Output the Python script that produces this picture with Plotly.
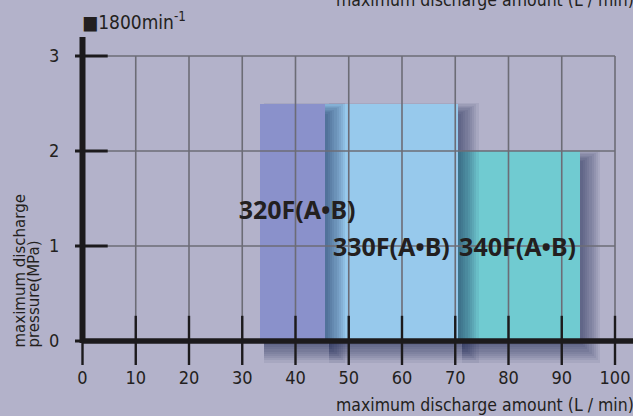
import plotly.graph_objects as go

# ---------------- data ----------------
models = ["320F(A•B)", "330F(A•B)", "340F(A•B)"]
flow_min = [33.3, 45.5, 70.5]        # L/min
flow_max = [45.5, 70.5, 93.4]        # L/min
pressure_max = [2.5, 2.5, 2.0]       # MPa
bar_colors = ["#8a91cb", "#97c9ec", "#70cbd1"]

x_ticks = [0, 10, 20, 30, 40, 50, 60, 70, 80, 90, 100]
x_ticklabels = [str(v) for v in x_ticks]
y_ticks = [0, 1, 2, 3]
y_ticklabels = [str(v) for v in y_ticks]

label_x = [40.3, 58.0, 81.7]
label_y = [1.35, 0.965, 0.965]

# ---------------- geometry helpers ----------------
W, H = 633, 416
ML, MR, MT, MB = 75, 0, 30, 51
PX_X = 5.325   # pixels per L/min
PX_Y = 95.0    # pixels per MPa
x_range = [-(82.5 - ML) / PX_X, (W - 82.5) / PX_X]
y_range = [-((H - MB) - 341) / PX_Y, (341 - MT) / PX_Y]

NARROW = "DejaVu Sans Condensed, sans-serif"
TXT = "#231f20"

fig = go.Figure()

# bars drawn back-to-front so each shadow falls on the next bar
NL = 9
for i in [2, 1, 0]:
    x0, x1, h = flow_min[i], flow_max[i], pressure_max[i]
    # soft drop shadow (layers)
    for k in range(NL):
        e = 2.2 * k
        sx0 = x0 + 4 / PX_X
        sx1 = x1 + (3 + e) / PX_X
        sb = -(4 + e) / PX_Y
        st = h - (10 - e * 0.6) / PX_Y
        fig.add_trace(go.Bar(
            x=[(sx0 + sx1) / 2], width=[sx1 - sx0], base=[sb], y=[st - sb],
            marker=dict(color="rgba(20,35,70,0.07)", line=dict(width=0)),
            hoverinfo="skip", showlegend=False))
    fig.add_trace(go.Bar(
        x=[(x0 + x1) / 2], width=[x1 - x0], base=[0], y=[h],
        marker=dict(color=bar_colors[i], line=dict(width=0)),
        name=models[i], hoverinfo="skip", showlegend=False))

# grid lines (over the bars)
gx, gy = [], []
for v in x_ticks:
    gx += [v, v, None]
    gy += [0, y_ticks[-1], None]
for v in y_ticks[1:]:
    gx += [x_ticks[0], x_ticks[-1], None]
    gy += [v, v, None]
fig.add_trace(go.Scatter(x=gx, y=gy, mode="lines",
                         line=dict(color="#6c6c76", width=1.6),
                         hoverinfo="skip", showlegend=False))

# tick marks crossing the axes
fig.add_trace(go.Scatter(x=x_ticks, y=[0] * len(x_ticks), mode="markers",
                         marker=dict(symbol="line-ns", size=36,
                                     line=dict(color="#1c1a1c", width=2.4)),
                         hoverinfo="skip", showlegend=False))
fig.add_trace(go.Scatter(x=[0] * len(y_ticks), y=y_ticks, mode="markers",
                         marker=dict(symbol="line-ew", size=36,
                                     line=dict(color="#1c1a1c", width=3)),
                         hoverinfo="skip", showlegend=False))

# model labels
fig.add_trace(go.Scatter(x=label_x, y=label_y, mode="text", text=models,
                         textfont=dict(family="Noto Sans", size=25, color=TXT,
                                       weight="bold"),
                         textposition="middle center",
                         hoverinfo="skip", showlegend=False))

# thick axis lines
fig.add_shape(type="line", xref="x", yref="y", x0=0, x1=x_range[1], y0=0, y1=0,
              line=dict(color="#1c1a1c", width=5.5), layer="above")
fig.add_shape(type="line", xref="x", yref="y", x0=0, x1=0, y0=-0.02, y1=3.2,
              line=dict(color="#1c1a1c", width=6), layer="above")

PW, PH = W - ML - MR, H - MT - MB
ann = []
ann.append(dict(text="■1800min<sup>-1</sup>", xref="paper", yref="paper",
                x=(80 - ML) / PW, y=1 + (MT - 21) / PH,
                xanchor="left", yanchor="middle", showarrow=False,
                font=dict(family=NARROW, size=19, color=TXT)))
for ypx in (405, 0):
    ann.append(dict(text="maximum discharge amount (L / min)", xref="paper", yref="paper",
                    x=1, xshift=3, y=((H - MB) - ypx) / PH,
                    xanchor="right", yanchor="middle", showarrow=False,
                    font=dict(family=NARROW, size=17.5, color=TXT)))
for txt, xpx in (("maximum discharge", 19), ("pressure(MPa)", 33)):
    ann.append(dict(text=txt, xref="paper", yref="paper", textangle=-90,
                    x=(xpx - ML) / PW, y=((H - MB) - 350) / PH,
                    xanchor="center", yanchor="bottom", showarrow=False,
                    font=dict(family="DejaVu Sans", size=15, color=TXT)))

fig.update_layout(
    width=W, height=H,
    margin=dict(l=ML, r=MR, t=MT, b=MB, pad=0),
    paper_bgcolor="#b3b2ca", plot_bgcolor="#b3b2ca",
    barmode="overlay", bargap=0,
    annotations=ann,
    xaxis=dict(range=x_range, tickvals=x_ticks, ticktext=x_ticklabels,
               showgrid=False, zeroline=False, showline=False, ticks="",
               tickfont=dict(family=NARROW, size=18, color=TXT), fixedrange=True),
    yaxis=dict(range=y_range, tickvals=y_ticks, ticktext=y_ticklabels,
               showgrid=False, zeroline=False, showline=False,
               ticks="outside", ticklen=11, tickcolor="rgba(0,0,0,0)",
               tickfont=dict(family=NARROW, size=18, color=TXT), fixedrange=True),
)

fig.write_html("out.html", config={"displayModeBar": False},
               post_script="document.body.style.margin='0';")
